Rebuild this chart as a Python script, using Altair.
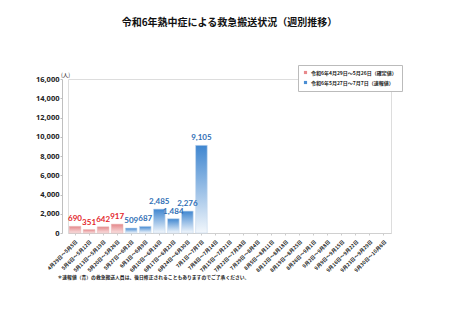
import altair as alt
import pandas as pd

weeks = ["4月29日～5月5日", "5月6日～5月12日", "5月13日～5月19日", "5月20日～5月26日",
         "5月27日～6月2日", "6月3日～6月9日", "6月10日～6月16日", "6月17日～6月23日",
         "6月24日～6月30日", "7月1日～7月7日", "7月8日～7月14日", "7月15日～7月21日",
         "7月22日～7月28日", "7月29日～8月4日", "8月5日～8月11日", "8月12日～8月18日",
         "8月19日～8月25日", "8月26日～9月1日", "9月2日～9月8日", "9月9日～9月15日",
         "9月16日～9月22日", "9月23日～9月29日", "9月30日～10月6日"]
values = [690, 351, 642, 917, 509, 687, 2485, 1484, 2276, 9105]
series_names = ["令和6年4月29日～5月26日（確定値）", "令和6年5月27日～7月7日（速報値）"]
series_of_bar = [0, 0, 0, 0, 1, 1, 1, 1, 1, 1]
y_ticks = [0, 2000, 4000, 6000, 8000, 10000, 12000, 14000, 16000]

title_text = "令和6年熱中症による救急搬送状況（週別推移）"
footnote = "＊速報値（青）の救急搬送人員は、後日修正されることもありますのでご了承ください。"

rows = []
for i, w in enumerate(weeks):
    if i < len(values):
        rows.append({"week": w, "value": values[i], "series": series_names[series_of_bar[i]]})
    else:
        rows.append({"week": w, "value": None, "series": None})
df = pd.DataFrame(rows)

legend_df = pd.DataFrame({"week": [weeks[0], weeks[0]], "value": [0, 0], "series": series_names})

CJK = "Noto Sans CJK JP"
RED_TXT = "#e3262b"
BLUE_TXT = "#2f6fb5"

x_enc = alt.X("week:N", sort=weeks, scale=alt.Scale(domain=weeks, paddingInner=0.17, paddingOuter=0.085),
              axis=alt.Axis(title=footnote, labelAngle=-45, labelFontSize=5, labelFont=CJK,
                            labelFontWeight="bold", labelColor="#222", labelPadding=4,
                            labelOverlap=False, labelBound=False,
                            ticks=True, tickSize=2, tickColor="#cccccc", domainColor="#d0d0d0",
                            titleFont=CJK, titleFontSize=4.8, titleFontWeight="bold", titleColor="#222",
                            titleAnchor="start", titleAlign="left", titleBaseline="middle",
                            titleX=-11, titleY=44))
y_enc = alt.Y("value:Q", scale=alt.Scale(domain=[0, 16000]),
              axis=alt.Axis(title="(人)", values=y_ticks, tickCount=9, format=",d", grid=False, offset=6,
                            labelOverlap=False, labelBound=False,
                            labelFont="Open Sans", labelFontSize=7.5, labelFontWeight="bold",
                            labelColor="#222", labelPadding=1, tickSize=2, tickColor="#bfbfbf",
                            domainColor="#bfbfbf", titleAngle=0, titleFont=CJK, titleFontSize=5.5,
                            titleFontWeight="normal", titleColor="#222", titleAlign="center",
                            titleBaseline="middle", titleX=3, titleY=-5))

red_grad = alt.Gradient(gradient="linear", x1=0, x2=0, y1=0, y2=1,
                        stops=[alt.GradientStop(color="#e4878a", offset=0),
                               alt.GradientStop(color="#f9e0e0", offset=1)])
blue_grad = alt.Gradient(gradient="linear", x1=0, x2=0, y1=0, y2=1,
                         stops=[alt.GradientStop(color="#3f86d0", offset=0),
                                alt.GradientStop(color="#f2f7fc", offset=1)])

base = alt.Chart(df)

red_bars = base.transform_filter(alt.datum.series == series_names[0]).mark_bar(
    fill=red_grad, stroke="#e9b4b4", strokeWidth=0.5).encode(x=x_enc, y=y_enc)
blue_bars = base.transform_filter(alt.datum.series == series_names[1]).mark_bar(
    fill=blue_grad, stroke="#c9dcf0", strokeWidth=0.6).encode(x=x_enc, y=y_enc)

red_lbl = base.transform_filter(alt.datum.series == series_names[0]).mark_text(
    dy=-7, font="Lato", fontSize=8, fontWeight="bold", color=RED_TXT, baseline="middle").encode(
    x=x_enc, y=y_enc, text=alt.Text("value:Q", format=",d"))
blue_lbl = base.transform_filter(alt.datum.series == series_names[1]).mark_text(
    dy=-7, font="Lato", fontSize=8, fontWeight="bold", color=BLUE_TXT, baseline="middle").encode(
    x=x_enc, y=y_enc, text=alt.Text("value:Q", format=",d"))

legend_layer = alt.Chart(legend_df).mark_square(size=0, opacity=0).encode(
    x=x_enc, y=y_enc,
    color=alt.Color("series:N", sort=series_names,
                    scale=alt.Scale(domain=series_names, range=["#e8898c", "#4a8ed3"]),
                    legend=alt.Legend(title=None, orient="none", legendX=230, legendY=-14,
                                      symbolType="square", symbolSize=10, symbolOpacity=1,
                                      labelFont=CJK, labelFontSize=5, labelColor="#222",
                                      labelFontWeight="bold",
                                      fillColor="white", strokeColor="#bbbbbb", padding=5,
                                      rowPadding=4, symbolStrokeWidth=0, labelOffset=3)))

chart = alt.layer(red_bars, blue_bars, red_lbl, blue_lbl, legend_layer).properties(
    width=323, height=154,
    title=alt.TitleParams(title_text, font=CJK, fontSize=10, fontWeight="bold", color="#111",
                          anchor="middle", frame="group", offset=37),
    autosize=alt.AutoSizeParams(type="none"),
    padding={"left": 68, "top": 79, "right": 62, "bottom": 87},
).configure_view(stroke=None).configure(background="white")

chart.save("out.html", embed_options={"renderer": "svg", "actions": False})
